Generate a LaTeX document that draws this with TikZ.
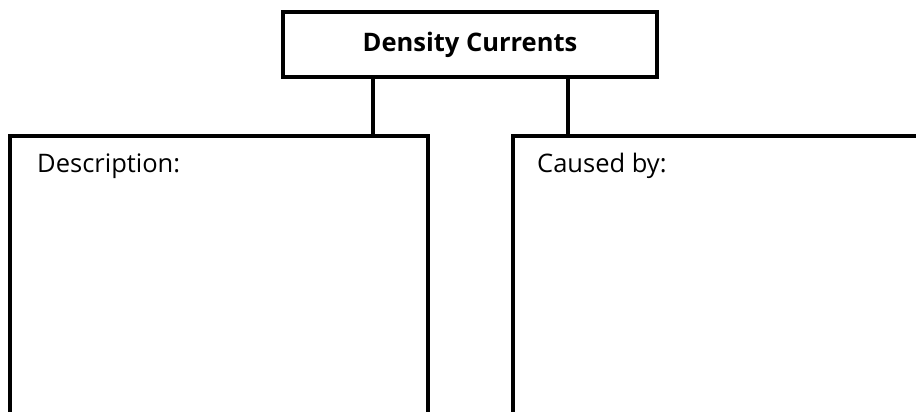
\documentclass[tikz,border=0pt]{standalone}
\usepackage{fontspec}
\setmainfont{Open Sans}
\tikzset{
  box/.style={draw, line width=3.2pt, inner sep=0pt, rectangle},
  head/.style={font=\fontsize{25.5}{28}\selectfont\bfseries},
  lab/.style={font=\fontsize{25.5}{28}\selectfont, anchor=base west, inner sep=0pt}
}
\begin{document}
\begin{tikzpicture}[x=1pt,y=1pt]
\useasboundingbox (0,0) rectangle (916,412);
\clip (0,0) rectangle (916,412);
\node[box, minimum width=374pt, minimum height=65pt, head] (top) at (470,367.5) {Density Currents};
\node[box, minimum width=418pt, minimum height=290pt] (descr) at (219,131) {};
\node[box, minimum width=411pt, minimum height=290pt] (cause) at (718.5,131) {};
\node[lab] (descrlab) at (37,239) {Description:};
\node[lab] (causelab) at (537,239) {Caused by:};
\coordinate (c1) at (373,0);
\coordinate (c2) at (568,0);
\foreach \c/\b in {c1/descr,c2/cause}{
  \draw[line width=3.2pt] (top.south -| \c) -- (\b.north -| \c);
}
\end{tikzpicture}
\end{document}
